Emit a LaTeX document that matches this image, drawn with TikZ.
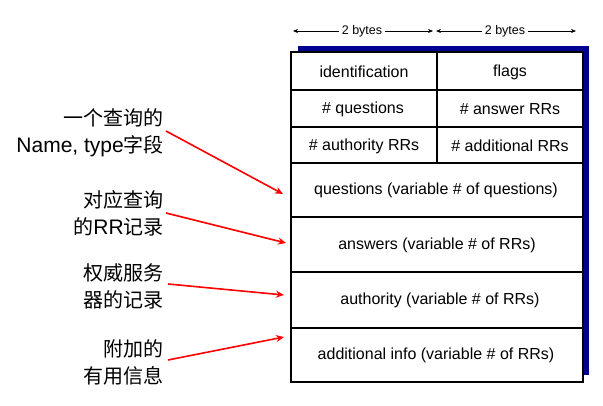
\documentclass[tikz,border=0pt]{standalone}
\usepackage{fontspec}
\setmainfont{Liberation Sans}
\newfontfamily\cjk{Noto Sans CJK SC}
\newfontfamily\latinlbl{Liberation Sans}
\usetikzlibrary{arrows.meta}
\definecolor{shadowblue}{RGB}{0,0,145}
\tikzset{bt/.tip={Stealth[length=5pt,width=4pt]}}
\begin{document}
\begin{tikzpicture}[x=1pt,y=-1pt,
  cell/.style={draw=black,line width=1.2pt,fill=white},
  celltext/.style={font=\fontsize{16}{19}\selectfont,anchor=center,inner sep=0pt},
  lbl/.style={font=\fontsize{20}{27}\selectfont\cjk,align=right,anchor=east,inner sep=0pt},
  redarrow/.style={draw=red,line width=1.6pt,-{Stealth[length=8pt,width=7pt]}},
  bytetext/.style={font=\fontsize{12.5}{14}\selectfont,fill=white,inner sep=3pt}]
\useasboundingbox (0,0) rectangle (603,406);
% shadow
\fill[shadowblue] (298,46) rectangle (589,375);
% cells
\draw[cell] (291,52) rectangle (437,90);
\draw[cell] (437,52) rectangle (583,90);
\draw[cell] (291,90) rectangle (437,127);
\draw[cell] (437,90) rectangle (583,127);
\draw[cell] (291,127) rectangle (437,163);
\draw[cell] (437,127) rectangle (583,163);
\draw[cell] (291,163) rectangle (583,217);
\draw[cell] (291,217) rectangle (583,272);
\draw[cell] (291,272) rectangle (583,328);
\draw[cell] (291,328) rectangle (583,382);
\node[celltext] (id) at (364,72) {identification};
\node[celltext] (fl) at (510,72) {flags};
\node[celltext] (nq) at (363,109) {\# questions};
\node[celltext] (na) at (510,109) {\# answer RRs};
\node[celltext] (nau) at (364,146) {\# authority RRs};
\node[celltext] (nad) at (510,146) {\# additional RRs};
\node[celltext] (qs) at (436,190) {questions (variable \# of questions)};
\node[celltext] (an) at (437,245) {answers (variable \# of RRs)};
\node[celltext] (au) at (440,300) {authority (variable \# of RRs)};
\node[celltext] (ad) at (436,355) {additional info (variable \# of RRs)};
% byte arrows
\coordinate (b1) at (293,31);
\coordinate (b2) at (433,31);
\coordinate (b3) at (436,31);
\coordinate (b4) at (576,31);
\node[bytetext] (t1) at (362,31) {2 bytes};
\node[bytetext] (t2) at (505,31) {2 bytes};
\draw[line width=0.6pt,bt-] (b1) -- (t1.west);
\draw[line width=0.6pt,-bt] (t1.east) -- (b2);
\draw[line width=0.6pt,bt-] (b3) -- (t2.west);
\draw[line width=0.6pt,-bt] (t2.east) -- (b4);
% labels
\node[lbl] (l1) at (164,133) {一个查询的\\{\latinlbl\fontsize{21}{27}\selectfont Name, type}字段};
\node[lbl] (l2) at (164,213) {对应查询\\的{\latinlbl\fontsize{21}{27}\selectfont RR}记录};
\node[lbl] (l3) at (164,286) {权威服务\\器的记录};
\node[lbl] (l4) at (164,362) {附加的\\有用信息};
\coordinate (e1) at (283,194);
\coordinate (e2) at (286,243);
\coordinate (e3) at (284,295);
\coordinate (e4) at (284,337);
\draw[redarrow] (166,131) -- (e1);
\draw[redarrow] (166,213) -- (e2);
\draw[redarrow] (168,284) -- (e3);
\draw[redarrow] (168,360) -- (e4);
\end{tikzpicture}
\end{document}
